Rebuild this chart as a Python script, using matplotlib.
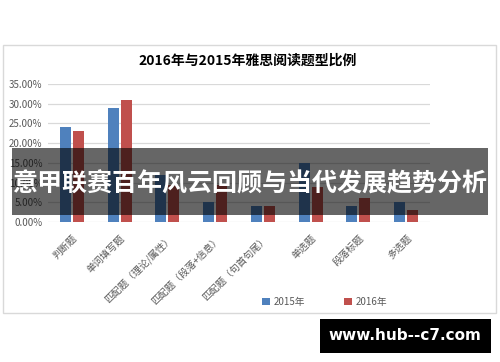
import matplotlib
matplotlib.use("Agg")
import matplotlib.pyplot as plt
from matplotlib.patches import Rectangle
from matplotlib.ticker import PercentFormatter
import numpy as np

plt.rcParams['font.family'] = ['Noto Sans CJK SC', 'DejaVu Sans']

title = "2016年与2015年雅思阅读题型比例"
categories = ["判断题", "单词填写题", "匹配题（理论/属性）", "匹配题（段落+信息）",
              "匹配题（句首句尾）", "单选题", "段落标题", "多选题"]
series_names = ["2015年", "2016年"]
values_2015 = [0.24, 0.29, 0.12, 0.05, 0.04, 0.15, 0.04, 0.05]
values_2016 = [0.23, 0.31, 0.095, 0.095, 0.04, 0.09, 0.06, 0.03]
yticks = [0.0, 0.05, 0.10, 0.15, 0.20, 0.25, 0.30, 0.35]
banner_text = "意甲联赛百年风云回顾与当代发展趋势分析"
watermark_text = "www.hub--c7.com"

W, H = 500, 362
fig = plt.figure(figsize=(W / 100, H / 100), dpi=100)
fig.patch.set_facecolor("white")

def fx(px):
    return px / W

def fy(py):
    return 1 - py / H

# chart frame
fig.patches.append(Rectangle((fx(3), fy(313)), fx(493), 268 / H, transform=fig.transFigure,
                             fill=False, edgecolor="#d9d9d9", linewidth=1.0, zorder=0))

ax = fig.add_axes([fx(48), fy(222), fx(430 - 48), (222 - 84) / H])
x = np.arange(len(categories))
bw = 0.23
gap = 0.04
b1 = ax.bar(x - (bw + gap) / 2, values_2015, bw, color="#4F81BD", label=series_names[0], zorder=3)
b2 = ax.bar(x + (bw + gap) / 2, values_2016, bw, color="#C0504D", label=series_names[1], zorder=3)

ax.set_xlim(-0.5, len(categories) - 0.5)
ax.set_ylim(0, 0.35)
ax.set_yticks(yticks)
ax.yaxis.set_major_formatter(PercentFormatter(1.0, decimals=2))
ax.grid(axis="y", color="#d9d9d9", linewidth=0.9, zorder=0)
for s in ax.spines.values():
    s.set_visible(False)
ax.tick_params(axis="y", length=0, labelsize=7, labelcolor="#595959", pad=4)
ax.set_xticks(x)
ax.set_xticklabels(categories, rotation=45, ha="right", va="top", rotation_mode="anchor",
                   fontsize=7, color="#595959")
ax.tick_params(axis="x", length=0, pad=8)

fig.text(fx(248), fy(61), title, ha="center", va="center", fontsize=10, fontweight="bold",
         color="black")

fig.legend(handles=[b1, b2], labels=series_names, loc="center", bbox_to_anchor=(fx(325), fy(302)),
           ncol=2, frameon=False, fontsize=7, handlelength=0.8, handleheight=0.8,
           columnspacing=4.0, handletextpad=0.4, labelcolor="#595959")

# banner overlay
fig.patches.append(Rectangle((fx(12), fy(215)), fx(488 - 12), (215 - 148) / H,
                             transform=fig.transFigure, facecolor="black", alpha=0.6,
                             edgecolor="none", zorder=10))
fig.text(fx(250), fy(184), banner_text, ha="center", va="center", fontsize=18,
         fontweight="bold", color="white", zorder=11)

# watermark box
fig.patches.append(Rectangle((fx(320), fy(353)), fx(491 - 320), (353 - 319) / H,
                             transform=fig.transFigure, facecolor="black",
                             edgecolor="none", zorder=10))
fig.text(fx(405), fy(336), watermark_text, ha="center", va="center", fontsize=11,
         fontweight="bold", color="white", family=["DejaVu Sans"], zorder=11)

fig.savefig("out.png", dpi=100)
